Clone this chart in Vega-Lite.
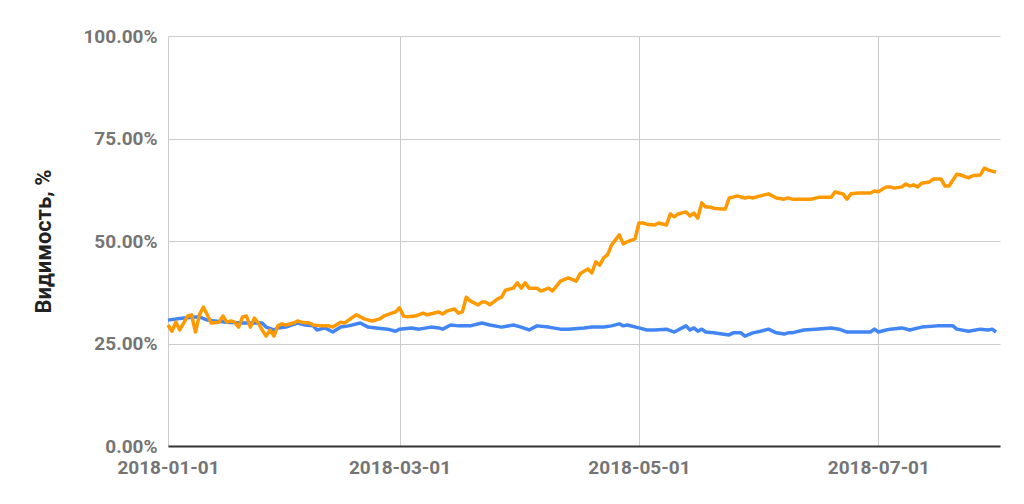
{
  "$schema": "https://vega.github.io/schema/vega-lite/v6.json",
  "width": 832,
  "height": 410,
  "autosize": "none",
  "padding": {"left": 168, "top": 36, "right": 24, "bottom": 58},
  "background": "white",
  "config": {"view": {"stroke": null}, "font": "Roboto"},
  "datasets": {
    "blue": [
      {"date":"2018-01-01","value":30.7},{"date":"2018-01-05","value":31.2},{"date":"2018-01-09","value":31.5},{"date":"2018-01-11","value":30.7},{"date":"2018-01-16","value":30.2},{"date":"2018-01-20","value":30.0},{"date":"2018-01-23","value":30.0},{"date":"2018-01-25","value":30.0},{"date":"2018-01-26","value":29.0},{"date":"2018-01-28","value":28.3},{"date":"2018-01-29","value":28.8},{"date":"2018-01-31","value":29.0},
      {"date":"2018-02-03","value":30.0},{"date":"2018-02-05","value":29.5},{"date":"2018-02-07","value":29.3},{"date":"2018-02-08","value":28.3},{"date":"2018-02-10","value":28.8},{"date":"2018-02-12","value":27.8},{"date":"2018-02-14","value":29.0},{"date":"2018-02-16","value":29.3},{"date":"2018-02-19","value":30.0},{"date":"2018-02-21","value":29.0},{"date":"2018-02-23","value":28.8},{"date":"2018-02-26","value":28.5},{"date":"2018-02-28","value":28.0},
      {"date":"2018-03-01","value":28.5},{"date":"2018-03-04","value":28.8},{"date":"2018-03-06","value":28.5},{"date":"2018-03-09","value":29.0},{"date":"2018-03-11","value":28.8},{"date":"2018-03-12","value":28.5},{"date":"2018-03-14","value":29.5},{"date":"2018-03-16","value":29.3},{"date":"2018-03-19","value":29.3},{"date":"2018-03-22","value":30.0},{"date":"2018-03-24","value":29.5},{"date":"2018-03-27","value":29.0},{"date":"2018-03-30","value":29.5},
      {"date":"2018-04-01","value":29.0},{"date":"2018-04-03","value":28.3},{"date":"2018-04-05","value":29.3},{"date":"2018-04-08","value":29.0},{"date":"2018-04-11","value":28.5},{"date":"2018-04-13","value":28.5},{"date":"2018-04-17","value":28.8},{"date":"2018-04-19","value":29.0},{"date":"2018-04-22","value":29.0},{"date":"2018-04-24","value":29.3},{"date":"2018-04-26","value":29.8},{"date":"2018-04-27","value":29.3},{"date":"2018-04-28","value":29.5},
      {"date":"2018-05-01","value":28.8},{"date":"2018-05-03","value":28.3},{"date":"2018-05-05","value":28.3},{"date":"2018-05-08","value":28.5},{"date":"2018-05-10","value":27.8},{"date":"2018-05-12","value":28.8},{"date":"2018-05-13","value":29.3},{"date":"2018-05-14","value":28.3},{"date":"2018-05-15","value":28.8},{"date":"2018-05-16","value":28.0},{"date":"2018-05-17","value":28.5},{"date":"2018-05-18","value":27.8},{"date":"2018-05-20","value":27.6},{"date":"2018-05-24","value":27.1},{"date":"2018-05-25","value":27.6},{"date":"2018-05-27","value":27.6},{"date":"2018-05-28","value":26.8},{"date":"2018-05-30","value":27.6},
      {"date":"2018-06-01","value":28.0},{"date":"2018-06-03","value":28.5},{"date":"2018-06-05","value":27.6},{"date":"2018-06-07","value":27.3},{"date":"2018-06-08","value":27.6},{"date":"2018-06-09","value":27.6},{"date":"2018-06-12","value":28.3},{"date":"2018-06-15","value":28.5},{"date":"2018-06-19","value":28.8},{"date":"2018-06-21","value":28.5},{"date":"2018-06-23","value":27.8},{"date":"2018-06-26","value":27.8},{"date":"2018-06-29","value":27.8},{"date":"2018-06-30","value":28.5},
      {"date":"2018-07-01","value":27.8},{"date":"2018-07-03","value":28.3},{"date":"2018-07-04","value":28.5},{"date":"2018-07-07","value":28.8},{"date":"2018-07-09","value":28.3},{"date":"2018-07-12","value":29.0},{"date":"2018-07-16","value":29.3},{"date":"2018-07-20","value":29.3},{"date":"2018-07-21","value":28.5},{"date":"2018-07-24","value":28.0},{"date":"2018-07-27","value":28.5},{"date":"2018-07-29","value":28.3},{"date":"2018-07-30","value":28.5},{"date":"2018-07-31","value":27.8}
    ],
    "orange": [
      {"date":"2018-01-01","value":29.5},{"date":"2018-01-02","value":28.0},{"date":"2018-01-03","value":30.2},{"date":"2018-01-04","value":28.3},{"date":"2018-01-05","value":30.0},{"date":"2018-01-06","value":31.7},{"date":"2018-01-07","value":32.0},{"date":"2018-01-08","value":27.8},{"date":"2018-01-09","value":32.0},{"date":"2018-01-10","value":33.9},{"date":"2018-01-11","value":32.0},{"date":"2018-01-12","value":30.0},{"date":"2018-01-14","value":30.2},{"date":"2018-01-15","value":31.7},{"date":"2018-01-16","value":30.2},{"date":"2018-01-17","value":30.5},{"date":"2018-01-18","value":30.2},{"date":"2018-01-19","value":29.0},{"date":"2018-01-20","value":31.5},{"date":"2018-01-21","value":31.7},{"date":"2018-01-22","value":29.0},{"date":"2018-01-23","value":31.2},{"date":"2018-01-24","value":30.0},{"date":"2018-01-25","value":28.3},{"date":"2018-01-26","value":26.8},{"date":"2018-01-27","value":28.3},{"date":"2018-01-28","value":26.8},{"date":"2018-01-29","value":29.3},{"date":"2018-01-30","value":29.8},{"date":"2018-01-31","value":29.5},
      {"date":"2018-02-02","value":30.0},{"date":"2018-02-03","value":30.5},{"date":"2018-02-04","value":30.2},{"date":"2018-02-06","value":30.0},{"date":"2018-02-07","value":29.5},{"date":"2018-02-09","value":29.3},{"date":"2018-02-11","value":29.3},{"date":"2018-02-12","value":29.0},{"date":"2018-02-14","value":30.2},{"date":"2018-02-15","value":30.0},{"date":"2018-02-16","value":30.7},{"date":"2018-02-18","value":32.0},{"date":"2018-02-20","value":31.0},{"date":"2018-02-22","value":30.5},{"date":"2018-02-24","value":31.0},{"date":"2018-02-25","value":31.7},{"date":"2018-02-27","value":32.4},{"date":"2018-02-28","value":32.7},
      {"date":"2018-03-01","value":33.7},{"date":"2018-03-02","value":31.7},{"date":"2018-03-03","value":31.5},{"date":"2018-03-05","value":31.7},{"date":"2018-03-07","value":32.4},{"date":"2018-03-08","value":32.0},{"date":"2018-03-11","value":32.7},{"date":"2018-03-12","value":32.2},{"date":"2018-03-13","value":32.9},{"date":"2018-03-15","value":33.4},{"date":"2018-03-16","value":32.4},{"date":"2018-03-17","value":32.7},{"date":"2018-03-18","value":36.3},{"date":"2018-03-19","value":35.4},{"date":"2018-03-21","value":34.4},{"date":"2018-03-22","value":35.1},{"date":"2018-03-23","value":35.1},{"date":"2018-03-24","value":34.4},{"date":"2018-03-26","value":35.9},{"date":"2018-03-27","value":36.3},{"date":"2018-03-28","value":38.0},{"date":"2018-03-30","value":38.5},{"date":"2018-03-31","value":39.8},
      {"date":"2018-04-01","value":38.5},{"date":"2018-04-02","value":39.8},{"date":"2018-04-03","value":38.5},{"date":"2018-04-05","value":38.5},{"date":"2018-04-06","value":37.8},{"date":"2018-04-08","value":38.5},{"date":"2018-04-09","value":37.8},{"date":"2018-04-11","value":40.2},{"date":"2018-04-13","value":41.0},{"date":"2018-04-15","value":40.2},{"date":"2018-04-16","value":42.0},{"date":"2018-04-18","value":43.2},{"date":"2018-04-19","value":42.2},{"date":"2018-04-20","value":44.9},{"date":"2018-04-21","value":44.1},{"date":"2018-04-22","value":45.9},{"date":"2018-04-23","value":46.6},{"date":"2018-04-24","value":49.0},{"date":"2018-04-26","value":51.5},{"date":"2018-04-27","value":49.3},{"date":"2018-04-28","value":49.8},{"date":"2018-04-30","value":50.5},
      {"date":"2018-05-01","value":54.4},{"date":"2018-05-02","value":54.4},{"date":"2018-05-03","value":54.1},{"date":"2018-05-05","value":53.9},{"date":"2018-05-06","value":54.4},{"date":"2018-05-08","value":53.9},{"date":"2018-05-09","value":56.6},{"date":"2018-05-10","value":55.9},{"date":"2018-05-11","value":56.6},{"date":"2018-05-13","value":57.1},{"date":"2018-05-14","value":56.1},{"date":"2018-05-15","value":56.8},{"date":"2018-05-16","value":55.6},{"date":"2018-05-17","value":59.3},{"date":"2018-05-18","value":58.3},{"date":"2018-05-19","value":58.3},{"date":"2018-05-20","value":58.0},{"date":"2018-05-22","value":57.8},{"date":"2018-05-23","value":57.8},{"date":"2018-05-24","value":60.5},{"date":"2018-05-25","value":60.7},{"date":"2018-05-26","value":61.0},{"date":"2018-05-28","value":60.5},{"date":"2018-05-29","value":60.7},{"date":"2018-05-30","value":60.5},
      {"date":"2018-06-01","value":61.0},{"date":"2018-06-03","value":61.5},{"date":"2018-06-05","value":60.5},{"date":"2018-06-07","value":60.2},{"date":"2018-06-08","value":60.5},{"date":"2018-06-09","value":60.2},{"date":"2018-06-11","value":60.2},{"date":"2018-06-14","value":60.2},{"date":"2018-06-16","value":60.7},{"date":"2018-06-19","value":60.7},{"date":"2018-06-20","value":62.0},{"date":"2018-06-21","value":61.7},{"date":"2018-06-22","value":61.5},{"date":"2018-06-23","value":60.2},{"date":"2018-06-24","value":61.5},{"date":"2018-06-26","value":61.7},{"date":"2018-06-29","value":61.7},{"date":"2018-06-30","value":62.2},
      {"date":"2018-07-01","value":62.0},{"date":"2018-07-03","value":63.2},{"date":"2018-07-04","value":63.2},{"date":"2018-07-05","value":62.9},{"date":"2018-07-07","value":63.2},{"date":"2018-07-08","value":63.9},{"date":"2018-07-09","value":63.4},{"date":"2018-07-10","value":63.7},{"date":"2018-07-11","value":63.2},{"date":"2018-07-12","value":64.1},{"date":"2018-07-14","value":64.4},{"date":"2018-07-15","value":65.1},{"date":"2018-07-17","value":65.1},{"date":"2018-07-18","value":63.4},{"date":"2018-07-19","value":63.4},{"date":"2018-07-21","value":66.3},{"date":"2018-07-22","value":66.1},{"date":"2018-07-24","value":65.4},{"date":"2018-07-25","value":65.9},{"date":"2018-07-27","value":66.1},{"date":"2018-07-28","value":67.8},{"date":"2018-07-29","value":67.3},{"date":"2018-07-31","value":66.8}
    ]
  },
  "encoding": {
    "x": {
      "field": "date",
      "type": "temporal",
      "scale": {"type": "utc", "domain": [{"year": 2018, "month": 1, "date": 1, "utc": true}, {"year": 2018, "month": 8, "date": 1, "utc": true}]},
      "axis": {
        "title": null,
        "values": [{"year": 2018, "month": 1, "date": 1, "utc": true}, {"year": 2018, "month": 3, "date": 1, "utc": true}, {"year": 2018, "month": 5, "date": 1, "utc": true}, {"year": 2018, "month": 7, "date": 1, "utc": true}],
        "format": "%Y-%m-%d",
        "ticks": false,
        "grid": true,
        "gridColor": "#cccccc",
        "gridWidth": 1,
        "domain": true,
        "domainColor": "#333333",
        "domainWidth": 2,
        "labelFont": "Roboto",
        "labelFontSize": 19,
        "labelFontWeight": "bold",
        "labelColor": "#757575",
        "labelPadding": 12,
        "labelFlush": false,
        "labelAlign": "center",
        "labelOverlap": false,
        "labelBound": false
      }
    },
    "y": {
      "field": "value",
      "type": "quantitative",
      "scale": {"domain": [0, 100], "nice": false},
      "axis": {
        "title": "Видимость, %",
        "titleFont": "Roboto",
        "titleFontSize": 22,
        "titleFontWeight": "bold",
        "titleColor": "#222222",
        "titlePadding": 27,
        "values": [0, 25, 50, 75, 100],
        "labelExpr": "format(datum.value, '.2f') + '%'",
        "ticks": false,
        "domain": false,
        "grid": true,
        "gridColor": "#cccccc",
        "gridWidth": 1,
        "labelFont": "Roboto",
        "labelFontSize": 19,
        "labelFontWeight": "bold",
        "labelColor": "#757575",
        "labelPadding": 11
      }
    }
  },
  "layer": [
    {
      "data": {"name": "blue"},
      "mark": {"type": "line", "color": "#4285F4", "strokeWidth": 3.5, "strokeJoin": "round"}
    },
    {
      "data": {"name": "orange"},
      "mark": {"type": "line", "color": "#FF9900", "strokeWidth": 3.5, "strokeJoin": "round"}
    }
  ]
}
